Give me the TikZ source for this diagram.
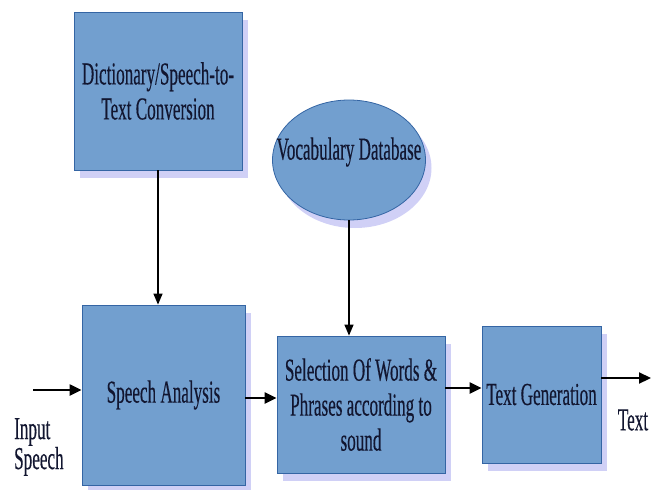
\documentclass[tikz,border=0pt]{standalone}
\usepackage{fontspec}
\setmainfont{Liberation Serif}[FakeStretch=0.535,FakeBold=0.3]
\usetikzlibrary{arrows.meta,shapes.geometric,shadows,calc}
\definecolor{boxfill}{HTML}{729FCF}
\definecolor{boxline}{HTML}{3465A4}
\definecolor{shade}{RGB}{208,208,246}
\definecolor{ink}{RGB}{18,22,48}
\tikzset{
  blk/.style={draw=boxline, line width=0.8pt, fill=boxfill, text=ink,
    align=center, inner sep=0pt,
    drop shadow={shadow xshift=6pt, shadow yshift=-8pt, fill=shade, opacity=1},
    font=\fontsize{32}{35}\selectfont},
  lbl/.style={text=ink, inner sep=0pt, font=\fontsize{32}{28}\selectfont},
  harr/.style={draw=black, line width=2.2pt, -{Triangle[length=12pt,width=11pt]}},
  varr/.style={draw=black, line width=1.3pt, -{Triangle[length=11pt,width=9pt]}}
}
\begin{document}
\begin{tikzpicture}[x=1pt,y=-1pt]
\useasboundingbox (0,0) rectangle (659,490);
% blocks
\node[blk, rectangle, minimum width=168pt, minimum height=158pt] (dict) at (158,91)
  {Dictionary/Speech-to-\\Text Conversion};
\node[blk, ellipse, minimum width=153pt, minimum height=120pt] (vocab) at (349,160) {};
\node[text=ink, inner sep=0pt, font=\fontsize{32}{35}\selectfont] (vocabtxt) at (349,152) {Vocabulary Database};
\node[blk, rectangle, minimum width=163pt, minimum height=180pt] (speech) at (163.5,395)
  {Speech Analysis};
\node[blk, rectangle, minimum width=168pt, minimum height=137pt] (sel) at (361,404.5)
  {Selection Of Words \&\\Phrases according to\\sound};
\node[blk, rectangle, minimum width=119pt, minimum height=137pt] (gen) at (541.5,394.5)
  {Text Generation};
% labels
\node[lbl, anchor=west, align=left] (inlbl) at (14,447) {Input\\Speech};
\node[lbl] (outlbl) at (633,420) {Text};
% free ends
\coordinate (in) at (33,390);
\coordinate (out) at (651,378);
% connectors
\draw[varr] (dict.south) -- (dict.south |- speech.north);
\draw[varr] (vocab.south) -- (vocab.south |- sel.north);
\draw[harr] (in) -- (in -| speech.west);
\draw[harr] ([yshift=-3pt]speech.east) -- ([yshift=-3pt]speech.east -| sel.west);
\draw[harr] ([yshift=16.5pt]sel.east) -- ([yshift=16.5pt]sel.east -| gen.west);
\draw[harr] (gen.east |- out) -- (out);
\end{tikzpicture}
\end{document}
